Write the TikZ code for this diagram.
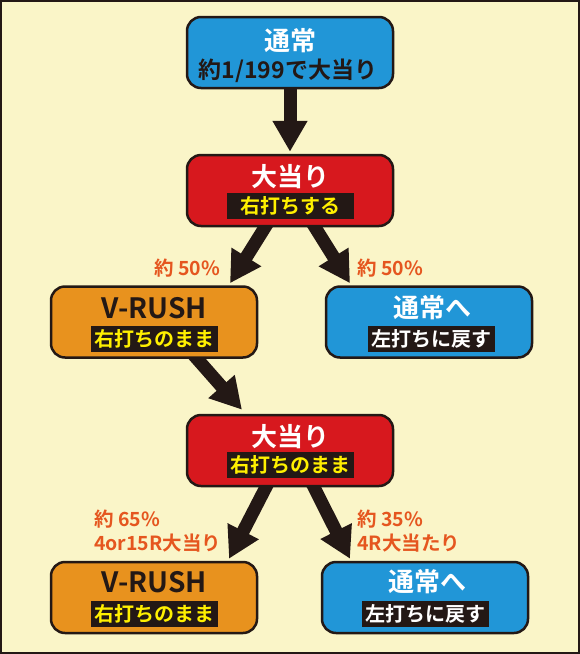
\documentclass[tikz,border=0pt]{standalone}
\usepackage{fontspec}
\usepackage{tikz}
\usetikzlibrary{positioning,arrows.meta,backgrounds}
\newfontfamily\jp{Noto Sans CJK JP}[BoldFont={Noto Sans CJK JP Bold}]

\definecolor{ink}{HTML}{231815}
\definecolor{paper}{HTML}{FAF5C8}
\definecolor{skyblue}{HTML}{2196D7}
\definecolor{hitred}{HTML}{D7181E}
\definecolor{rushor}{HTML}{E8921E}
\definecolor{hiyel}{HTML}{FFF000}
\definecolor{rateor}{HTML}{E5561F}

\begin{document}
\begin{tikzpicture}[x=1pt,y=-1pt,
    box/.style={draw=ink,line width=2.5pt,rounded corners=14pt,minimum width=206pt,minimum height=71pt},
    ttl/.style={font=\jp\bfseries\fontsize{26}{28}\selectfont,inner sep=0pt},
    band/.style={fill=ink,text=hiyel,font=\jp\bfseries\fontsize{20}{21}\selectfont,minimum width=127pt,minimum height=26pt,inner sep=0pt},
    rate/.style={text=rateor,font=\jp\bfseries\fontsize{19.5}{24}\selectfont,align=left,inner sep=0pt,anchor=west},
    go/.style={draw=ink,line width=13pt,-{Triangle[width=33pt,length=31pt]}}]
    \useasboundingbox (0,0) rectangle (580,654);

    % boxes
    \node[box,fill=skyblue] (top) at (290,52.5) {};
    \node[box,fill=hitred] (hit1) at (290,190.5) {};
    \node[box,fill=rushor] (vr1) at (154,322) {};
    \node[box,fill=skyblue] (nm1) at (429,322) {};
    \node[box,fill=hitred] (hit2) at (290,450.5) {};
    \node[box,fill=rushor] (vr2) at (154,597.5) {};
    \node[box,fill=skyblue] (nm2) at (425,597.5) {};

    % texts
    \node[ttl,text=white] (topt) at (290,41) {通常};
    \node[ttl,text=ink,font=\jp\bfseries\fontsize{23}{24}\selectfont] (tops) at (288,71) {約1/199で大当り};
    \node[ttl,text=white] (hit1t) at (290,177) {大当り};
    \node[band] (hit1b) at (290,205.5) {右打ちする};
    \node[ttl,text=ink,font=\jp\bfseries\fontsize{28}{30}\selectfont] (vr1t) at (154,308) {V-RUSH};
    \node[band] (vr1b) at (154,339) {右打ちのまま};
    \node[ttl,text=white] (nm1t) at (432,308) {通常へ};
    \node[band,text=white] (nm1b) at (431,339) {左打ちに戻す};
    \node[ttl,text=white] (hit2t) at (290,437) {大当り};
    \node[band] (hit2b) at (290,465) {右打ちのまま};
    \node[ttl,text=ink,font=\jp\bfseries\fontsize{28}{30}\selectfont] (vr2t) at (154,582) {V-RUSH};
    \node[band] (vr2b) at (154,614) {右打ちのまま};
    \node[ttl,text=white] (nm2t) at (427,582) {通常へ};
    \node[band,text=white] (nm2b) at (425,614) {左打ちに戻す};

    % rates
    \node[rate] (r1) at (154,268) {約 50\%};
    \node[rate] (r2) at (357,268) {約 50\%};
    \node[rate] (r3) at (94,531) {約 65\%\\4or15R大当り};
    \node[rate] (r4) at (357,531) {約 35\%\\4R大当たり};

    \begin{scope}[on background layer]
    \draw[ink,line width=1.5pt,fill=paper] (1,1) rectangle (579,653);
    \draw[go] ([yshift=8pt]top.south) -- ([yshift=2pt]hit1.north);
    \draw[go] ([xshift=-20pt,yshift=8pt]hit1.south) -- ([xshift=76pt,yshift=2pt]vr1.north);
    \draw[go] ([xshift=20pt,yshift=8pt]hit1.south) -- ([xshift=-79pt,yshift=2pt]nm1.north);
    \draw[go] ([xshift=36pt,yshift=8pt]vr1.south) -- ([xshift=-48pt,yshift=4pt]hit2.north);
    \draw[go] ([xshift=-20pt,yshift=8pt]hit2.south) -- ([xshift=75pt,yshift=2pt]vr2.north);
    \draw[go] ([xshift=20pt,yshift=8pt]hit2.south) -- ([xshift=-75pt,yshift=2pt]nm2.north);
    \end{scope}
\end{tikzpicture}
\end{document}
